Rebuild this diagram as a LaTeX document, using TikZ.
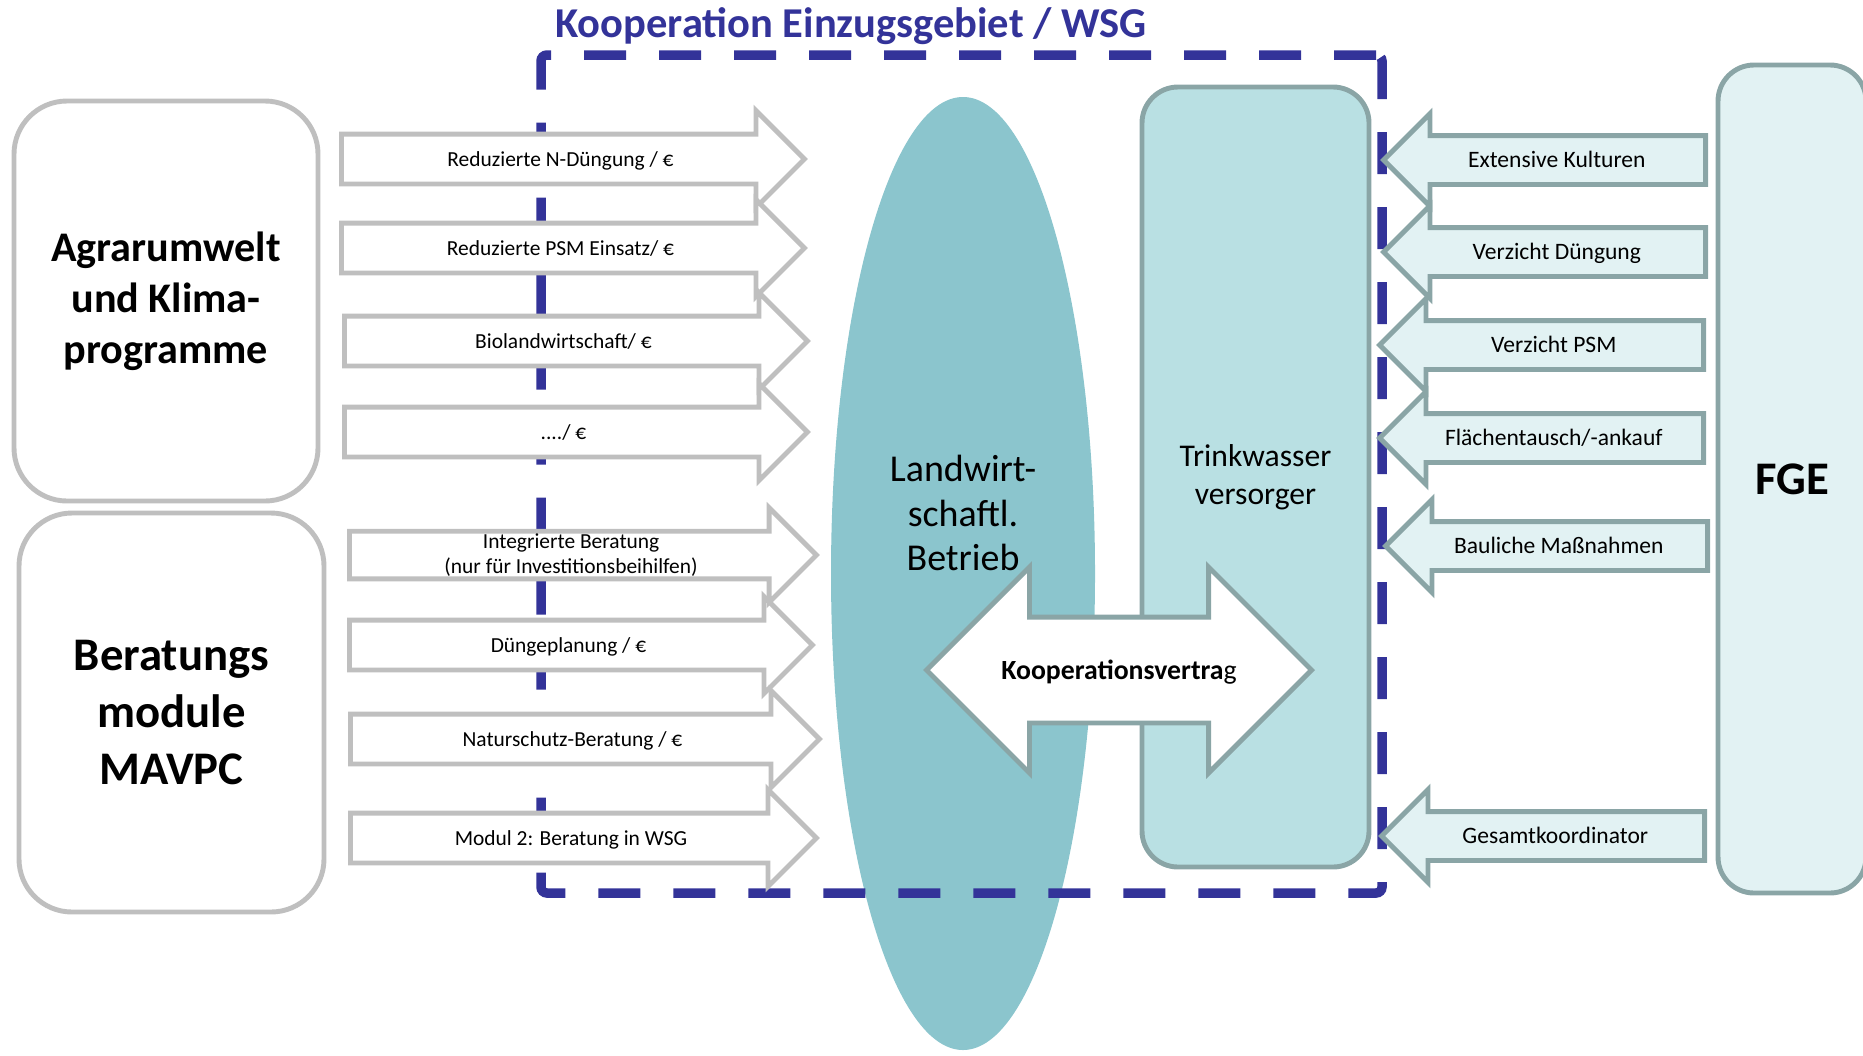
\documentclass[tikz,border=0pt]{standalone}
\usepackage{fontspec}
\setmainfont{Carlito}
\usetikzlibrary{shapes.arrows,shapes.geometric}

\definecolor{wsgblue}{RGB}{51,51,153}
\definecolor{betrieb}{RGB}{139,197,205}
\definecolor{versorger}{RGB}{185,224,227}
\definecolor{hell}{RGB}{226,242,243}
\definecolor{rand}{RGB}{138,165,166}
\definecolor{grau}{RGB}{191,191,191}

\begin{document}
\begin{tikzpicture}
\tikzset{gbox style/.style = {draw=grau, line width=1.4pt, fill=white, rounded corners=0.53cm, align=center},
  tbox style/.style = {draw=rand, line width=1.4pt, rounded corners=0.36cm, align=center},
  r style/.style = {single arrow, draw=grau, line width=1.4pt, fill=white, single arrow head extend=0.235cm,
    minimum width=0.92cm, single arrow tip angle=90, inner sep=0pt, anchor=tail, align=center,
    font=\fontsize{6.1}{7.1}\selectfont},
  r text/.style = {text height=0.20cm, text depth=0.06cm, inner ysep=0.095cm},
  l style/.style = {single arrow, shape border rotate=180, draw=rand, line width=1.4pt, fill=hell,
    single arrow head extend=0.22cm, minimum width=0.88cm, single arrow tip angle=90, inner xsep=0pt,
    inner ysep=0.075cm, text height=0.22cm, text depth=0.07cm, anchor=tail, font=\fontsize{6.7}{8}\selectfont}}
\useasboundingbox (0,0) rectangle (18.63,10.55);

\node[ellipse, fill=betrieb, minimum width=2.64cm, minimum height=9.53cm, inner sep=0pt] (betrieb) at (9.63,4.815) {};
\node[draw=wsgblue, line width=0.095cm, dash pattern=on 0.42cm off 0.33cm, rounded corners=0.06cm,
  minimum width=8.41cm, minimum height=8.38cm, inner sep=0pt] (wsg) at (9.615,5.81) {};
\node[font=\fontsize{12.1}{14}\selectfont\bfseries, text=wsgblue] (titel) at (8.51,10.29) {Kooperation Einzugsgebiet / WSG};

\node[tbox style, fill=versorger, minimum width=2.27cm, minimum height=7.80cm, font=\fontsize{9}{10.8}\selectfont]
  (twv) at (12.555,5.78) {Trinkwasser\\versorger};
\node[tbox style, fill=hell, minimum width=1.48cm, minimum height=8.28cm, font=\fontsize{13.3}{16}\selectfont\bfseries]
  (fge) at (17.92,5.76) {FGE};

\node[gbox style, minimum width=3.04cm, minimum height=4.00cm, font=\fontsize{12}{14.5}\selectfont\bfseries]
  (agrar) at (1.66,7.54) {Agrarumwelt\\und Klima-\\programme};
\node[gbox style, minimum width=3.05cm, minimum height=3.99cm, font=\fontsize{13.3}{16.2}\selectfont\bfseries]
  (beratung) at (1.715,3.425) {Beratungs\\module\\MAVPC};
\node[align=center, font=\fontsize{10.8}{12.7}\selectfont] (landwirt) at (9.63,5.42) {Landwirt-\\schaftl.\\Betrieb};

% Maßnahmen nach rechts
\foreach \n/\x/\y/\len/\txt in {1/3.39/8.96/4.63/{Reduzierte N-Düngung / €},
    2/3.39/8.07/4.63/{Reduzierte PSM Einsatz/ €}, 3/3.42/7.14/4.63/{Biolandwirtschaft/ €},
    4/3.42/6.23/4.63/{..../ €}, 6/3.47/4.10/4.63/{Düngeplanung / €},
    7/3.48/3.16/4.69/{Naturschutz-Beratung / €}, 8/3.48/2.17/4.66/{Modul 2: Beratung in WSG}}
  \node[r style, r text, minimum height=\len cm] (r\n) at (\x,\y) {\txt};
\node[r style, minimum height=4.67cm] (r5) at (3.47,5.00) {Integrierte Beratung\\(nur für Investitionsbeihilfen)};

% Maßnahmen nach links
\foreach \n/\x/\y/\len/\txt in {1/17.08/8.95/3.22/{Extensive Kulturen}, 2/17.08/8.03/3.22/{Verzicht Düngung},
    3/17.06/7.10/3.24/{Verzicht PSM}, 4/17.06/6.17/3.24/{Flächentausch/-ankauf},
    5/17.10/5.09/3.22/{Bauliche Maßnahmen}, 6/17.07/2.19/3.23/{Gesamtkoordinator}}
  \node[l style, minimum height=\len cm] (l\n) at (\x,\y) {\txt};

\node[double arrow, draw=rand, line width=1.4pt, fill=white, double arrow head extend=0.5cm, minimum width=2.0cm,
  minimum height=3.85cm, double arrow tip angle=90, inner xsep=0pt, inner ysep=0.335cm, text height=0.26cm,
  text depth=0.08cm, font=\fontsize{7.9}{9}\selectfont] (vertrag) at (11.19,3.85) {\textbf{Kooperationsvertra}g};
\end{tikzpicture}
\end{document}
